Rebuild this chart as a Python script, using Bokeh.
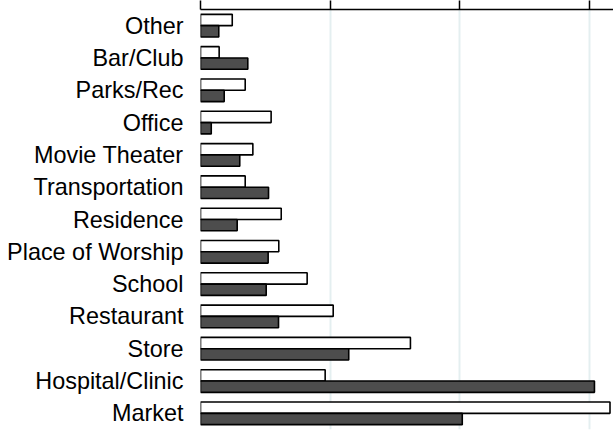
from bokeh.plotting import figure
from bokeh.models import ColumnDataSource, FactorRange, Range1d, FixedTicker, LinearAxis
from bokeh.transform import dodge
from bokeh.embed import file_html
from bokeh.resources import INLINE

# categories from top to bottom as shown
categories = ["Other", "Bar/Club", "Parks/Rec", "Office", "Movie Theater",
              "Transportation", "Residence", "Place of Worship", "School",
              "Restaurant", "Store", "Hospital/Clinic", "Market"]
series_white = [2.45, 1.44, 3.45, 5.45, 4.04, 3.45, 6.23, 6.04, 8.23, 10.24, 16.2, 9.62, 31.6]
series_dark = [1.41, 3.65, 1.83, 0.83, 3.03, 5.25, 2.83, 5.22, 5.07, 6.02, 11.44, 30.4, 20.2]
x_ticks = [0, 10, 20, 30]

src = ColumnDataSource(dict(cat=categories, white=series_white, dark=series_dark))

p = figure(width=613, height=433, output_backend="svg", toolbar_location=None,
           y_range=FactorRange(factors=list(reversed(categories)), range_padding=0),
           x_range=Range1d(0, 31.87), x_axis_location=None,
           min_border_left=200, min_border_right=0, min_border_top=0, min_border_bottom=4)
p.outline_line_color = None

p.hbar(y=dodge("cat", 0.175, range=p.y_range), right="white", left=0, height=0.35,
       source=src, fill_color="white", line_color="black", line_width=1.6)
p.hbar(y=dodge("cat", -0.175, range=p.y_range), right="dark", left=0, height=0.35,
       source=src, fill_color="#4d4d4d", line_color="black", line_width=1.6)

top = LinearAxis(ticker=FixedTicker(ticks=x_ticks))
top.major_label_overrides = {t: "" for t in x_ticks}
top.major_label_text_font_size = "0px"
top.major_label_standoff = 0
top.major_tick_out = 9
top.major_tick_in = 0
top.minor_tick_out = 0
top.minor_tick_in = 0
top.axis_line_width = 1.5
top.major_tick_line_width = 1.5
top.axis_line_color = "black"
p.add_layout(top, "above")

p.xgrid.ticker = FixedTicker(ticks=x_ticks)
p.xgrid.grid_line_color = "#e4eff0"
p.xgrid.grid_line_width = 2
p.ygrid.grid_line_color = None

ya = p.yaxis[0]
ya.axis_line_color = None
ya.major_tick_line_color = None
ya.minor_tick_line_color = None
ya.major_label_standoff = 11
ya.major_label_text_font = "Liberation Sans"
ya.major_label_text_font_size = "23.4px"
ya.major_label_text_color = "black"

open("out.html", "w").write(file_html(p, INLINE))
